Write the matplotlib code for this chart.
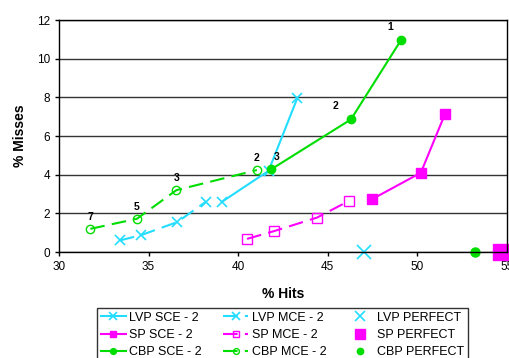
import matplotlib.pyplot as plt

plt.rcParams['font.family'] = ['Liberation Sans', 'DejaVu Sans']

# LVP
lvp_sce_x = [39.1, 41.7, 43.3]
lvp_sce_y = [2.6, 4.2, 7.95]
lvp_mce_x = [33.4, 34.6, 36.6, 38.2]
lvp_mce_y = [0.6, 0.88, 1.55, 2.6]
lvp_perf = (47.05, 0.0)

# SP
sp_sce_x = [47.45, 50.2, 51.55]
sp_sce_y = [2.72, 4.1, 7.14]
sp_mce_x = [40.5, 42.0, 44.4, 46.2]
sp_mce_y = [0.68, 1.08, 1.78, 2.65]
sp_perf = (54.65, 0.0)

# CBP
cbp_sce_x = [41.85, 46.3, 49.1]
cbp_sce_y = [4.28, 6.86, 10.97]
cbp_sce_lbl = ["3", "2", "1"]
cbp_mce_x = [31.75, 34.35, 36.55, 41.05]
cbp_mce_y = [1.2, 1.72, 3.2, 4.24]
cbp_mce_lbl = ["7", "5", "3", "2"]
cbp_perf = (53.25, 0.0)

CYAN = "#22ddff"
MAG = "#ff00ff"
GRN = "#00dd00"
DASH = (0, (7, 3.5))

fig = plt.figure(figsize=(5.1, 3.58), dpi=100)
ax = fig.add_axes([0.1157, 0.296, 0.878, 0.648])

ax.grid(axis="y", color="#333333", lw=1)
ax.set_axisbelow(True)

h = {}
h["lvp_sce"], = ax.plot(lvp_sce_x, lvp_sce_y, color=CYAN, lw=1.5, marker="x", ms=7.5, mew=1.2, label="LVP SCE - 2")
h["lvp_mce"], = ax.plot(lvp_mce_x, lvp_mce_y, color=CYAN, lw=1.5, ls=DASH, marker="x", ms=7.5, mew=1.2, label="LVP MCE - 2")
h["lvp_perf"], = ax.plot([lvp_perf[0]], [lvp_perf[1]], color=CYAN, ls="none", marker="x", ms=10, mew=1.2, clip_on=False, label="LVP PERFECT")
h["sp_sce"], = ax.plot(sp_sce_x, sp_sce_y, color=MAG, lw=1.5, marker="s", ms=6.5, label="SP SCE - 2")
h["sp_mce"], = ax.plot(sp_mce_x, sp_mce_y, color=MAG, lw=1.5, ls=DASH, marker="s", ms=6.5, mfc="none", mew=1, label="SP MCE - 2")
h["sp_perf"], = ax.plot([sp_perf[0]], [sp_perf[1]], color=MAG, ls="none", marker="s", ms=11, clip_on=False, label="SP PERFECT")
h["cbp_sce"], = ax.plot(cbp_sce_x, cbp_sce_y, color=GRN, lw=1.5, marker="o", ms=6, label="CBP SCE - 2")
h["cbp_mce"], = ax.plot(cbp_mce_x, cbp_mce_y, color=GRN, lw=1.5, ls=DASH, marker="o", ms=6, mfc="none", mew=1, label="CBP MCE - 2")
h["cbp_perf"], = ax.plot([cbp_perf[0]], [cbp_perf[1]], color=GRN, ls="none", marker="o", ms=6.5, clip_on=False, label="CBP PERFECT")

# point labels
sce_off = [(4, 5), (-11, 6), (-8, 6)]
for x, y, t, off in zip(cbp_sce_x, cbp_sce_y, cbp_sce_lbl, sce_off):
    ax.annotate(t, (x, y), xytext=off, textcoords="offset points", fontsize=7.5, fontweight="bold", ha="center", va="bottom")
for x, y, t in zip(cbp_mce_x, cbp_mce_y, cbp_mce_lbl):
    ax.annotate(t, (x, y), xytext=(0, 5), textcoords="offset points", fontsize=7.5, fontweight="bold", ha="center", va="bottom")

ax.set_xlim(30, 55)
ax.set_ylim(0, 12)
ax.set_xticks(range(30, 56, 5))
ax.set_yticks(range(0, 13, 2))
ax.tick_params(labelsize=8.5, length=3, width=1, direction="out", color="black")
for s in ax.spines.values():
    s.set_color("black")
    s.set_linewidth(1)

ax.set_xlabel("% Hits", fontsize=10, fontweight="bold", labelpad=10)
ax.set_ylabel("% Misses", fontsize=10, fontweight="bold", labelpad=7)

order = ["lvp_sce", "sp_sce", "cbp_sce", "lvp_mce", "sp_mce", "cbp_mce", "lvp_perf", "sp_perf", "cbp_perf"]
leg = fig.legend([h[k] for k in order], [h[k].get_label() for k in order], ncol=3,
                 loc="upper left", bbox_to_anchor=(0.19, 0.14), fontsize=9, frameon=True, fancybox=False,
                 edgecolor="black", borderpad=0.3, labelspacing=0.42, handlelength=2.0, handletextpad=0.3,
                 columnspacing=1.7, borderaxespad=0, markerscale=0.7)
leg.get_frame().set_linewidth(1)

fig.savefig("out.png", dpi=100)
